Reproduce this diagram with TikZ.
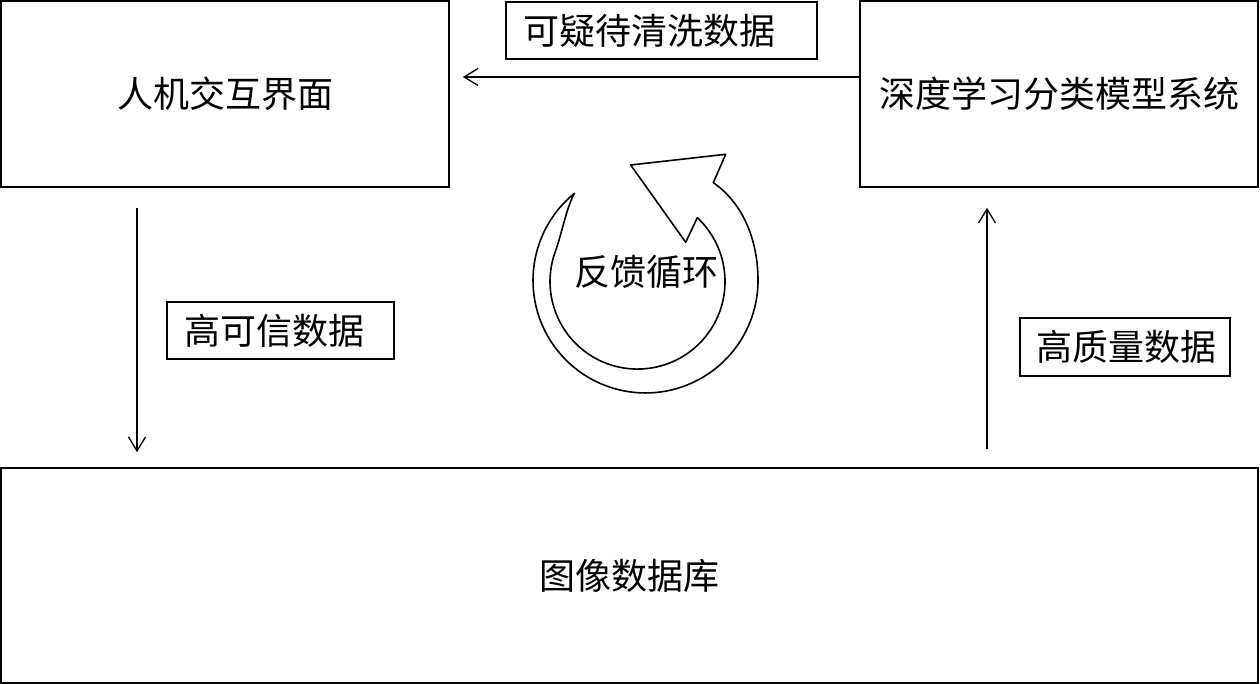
\documentclass[tikz,border=0pt]{standalone}
\usepackage{fontspec}
\setmainfont{Noto Sans CJK SC}
\usetikzlibrary{arrows.meta}
\begin{document}
\begin{tikzpicture}[x=1pt,y=1pt,
  cjk/.style={font=\fontsize{36}{40}\selectfont},
  box/.style={draw, line width=1.6pt, inner sep=0pt, cjk},
  tag/.style={draw, line width=1.4pt, inner ysep=0pt, align=left, cjk},
  arr/.style={line width=1.3pt, -{Straight Barb[length=14pt,width=17pt]}},
  loopline/.style={line width=1.6pt, line join=round}]
  % canvas
  \useasboundingbox (0,0) rectangle (1260,684);
  \fill[white] (0,0) rectangle (1260,684);

  % main blocks
  \node[box, minimum width=448pt, minimum height=186pt] (hmi) at (225,590) {人机交互界面};
  \node[box, minimum width=398pt, minimum height=186pt] (dl) at (1059,590) {深度学习分类模型系统};
  \node[box, minimum width=1257pt, minimum height=215pt] (db) at (629.5,108.5) {图像数据库};

  % connector labels
  \node[tag, text width=277pt, inner xsep=17pt, minimum height=57pt] (t1) at (661.5,653.5) {可疑待清洗数据};
  \node[tag, text width=193pt, inner xsep=17pt, minimum height=57pt] (t2) at (280.5,353.5) {高可信数据};
  \node[tag, text width=178pt, inner xsep=16pt, minimum height=58pt] (t3) at (1125,337) {高质量数据};

  % connectors
  \coordinate (xa) at (137,0);
  \coordinate (xb) at (987,0);
  \draw[arr, shorten >=13pt] ([yshift=17pt]dl.west) -- ([yshift=17pt]hmi.east);
  \draw[arr, shorten <=20pt, shorten >=15pt] (hmi.south -| xa) -- (db.north -| xa);
  \draw[arr, shorten <=18pt, shorten >=20pt] (db.north -| xb) -- (dl.south -| xb);

  % feedback loop arrow
  \draw[loopline] (574.4,490.7) arc[start angle=129.2, end angle=360, radius=112.5]
    .. controls (758,441.5) and (744.5,479.7) .. (713.3,501.3)
    -- (725.7,529.7) -- (630.7,519) -- (685.7,441.7) -- (697.3,466.3)
    arc[start angle=46.9, end angle=-200, radius=87.5]
    .. controls (562.1,451.2) and (566,475) .. cycle;
  \node[cjk, inner sep=0pt] (loop) at (646,412) {反馈循环};
\end{tikzpicture}
\end{document}
